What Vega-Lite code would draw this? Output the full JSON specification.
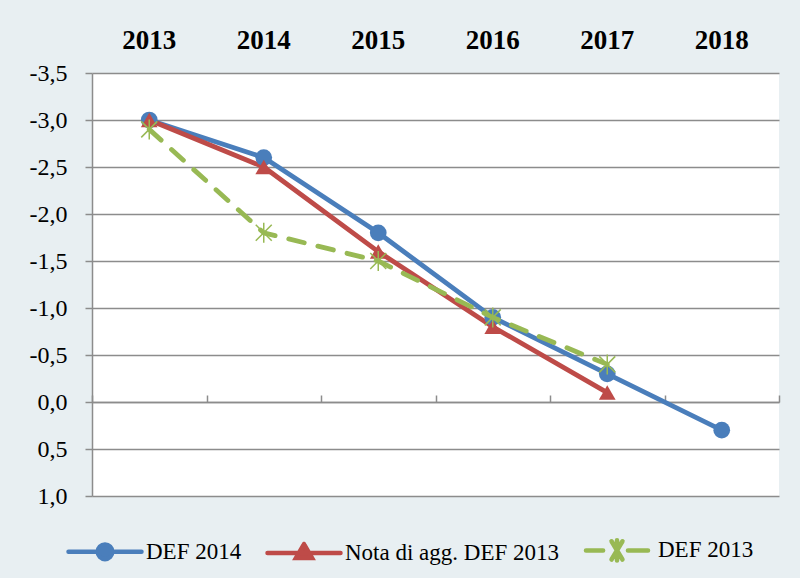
{
  "$schema": "https://vega.github.io/schema/vega-lite/v6.json",
  "width": 687,
  "height": 423,
  "autosize": {"type": "none"},
  "padding": {"left": 92, "top": 73, "right": 21, "bottom": 82},
  "background": "#e8eff2",
  "config": {
    "view": {"fill": "white", "stroke": null},
    "font": "Liberation Serif",
    "axis": {"labelFont": "Liberation Serif"},
    "axisY": {"labelFont": "Liberation Serif", "labelFontSize": 24, "labelColor": "black"}
  },
  "data": {
    "values": [
      {"year": "2013", "value": -3.0, "series": "DEF 2014"},
      {"year": "2014", "value": -2.6, "series": "DEF 2014"},
      {"year": "2015", "value": -1.8, "series": "DEF 2014"},
      {"year": "2016", "value": -0.9, "series": "DEF 2014"},
      {"year": "2017", "value": -0.3, "series": "DEF 2014"},
      {"year": "2018", "value": 0.3, "series": "DEF 2014"},
      {"year": "2013", "value": -3.0, "series": "Nota di agg. DEF 2013"},
      {"year": "2014", "value": -2.5, "series": "Nota di agg. DEF 2013"},
      {"year": "2015", "value": -1.6, "series": "Nota di agg. DEF 2013"},
      {"year": "2016", "value": -0.8, "series": "Nota di agg. DEF 2013"},
      {"year": "2017", "value": -0.1, "series": "Nota di agg. DEF 2013"},
      {"year": "2013", "value": -2.9, "series": "DEF 2013"},
      {"year": "2014", "value": -1.8, "series": "DEF 2013"},
      {"year": "2015", "value": -1.5, "series": "DEF 2013"},
      {"year": "2016", "value": -0.9, "series": "DEF 2013"},
      {"year": "2017", "value": -0.4, "series": "DEF 2013"}
    ]
  },
  "encoding": {
    "x": {
      "field": "year", "type": "ordinal", "bandPosition": 0.5,
      "scale": {"type": "band", "paddingInner": 0, "paddingOuter": 0, "domain": ["2013", "2014", "2015", "2016", "2017", "2018"]},
      "axis": null
    },
    "y": {
      "field": "value", "type": "quantitative",
      "scale": {"domain": [-3.5, 1.0], "reverse": true, "nice": false, "zero": false},
      "axis": {
        "values": [-3.5, -3.0, -2.5, -2.0, -1.5, -1.0, -0.5, 0.0, 0.5, 1.0],
        "labelExpr": "replace(replace(format(datum.value, '.1f'), '.', ','), '\u2212', '-')",
        "labelFont": "Liberation Serif", "labelFontSize": 24, "labelColor": "black", "labelPadding": 18,
        "tickSize": 7, "tickColor": "#8c8c8c", "tickWidth": 1.5,
        "domainColor": "#8c8c8c", "domainWidth": 1.5,
        "grid": true, "gridColor": "#8c8c8c", "gridWidth": 1.5,
        "title": null
      }
    },
    "color": {
      "field": "series", "type": "nominal",
      "scale": {"domain": ["DEF 2014", "Nota di agg. DEF 2013", "DEF 2013"], "range": ["#4a7ebb", "#be4b48", "#98b954"]},
      "legend": {
        "orient": "none", "legendX": -26, "legendY": 438, "direction": "horizontal", "title": null,
        "symbolSize": 5329, "symbolStrokeWidth": 4.5, "symbolOpacity": 1,
        "labelFont": "Liberation Serif", "labelFontSize": 23, "labelColor": "black",
        "labelOffset": 2, "columnPadding": 16, "labelLimit": 400, "padding": 0,
        "encode": {
          "symbols": {
            "update": {
              "shape": {"signal": "datum.value === 'DEF 2014' ? 'M-1,0L1,0M0.2,0A0.2,0.2,0,1,1,-0.2,0A0.2,0.2,0,1,1,0.2,0Z' : datum.value === 'DEF 2013' ? 'M-0.85,0L-0.38,0M0.3,0L0.85,0M-0.15,-0.25L0.15,0.25M-0.15,0.25L0.15,-0.25M0,-0.28L0,0.28' : 'M-1,0L1,0M0,-0.24L0.22,0.14L-0.22,0.14Z'"},
              "fill": {"signal": "datum.value === 'DEF 2014' ? '#4a7ebb' : datum.value === 'DEF 2013' ? 'transparent' : '#be4b48'"},
              "stroke": {"signal": "datum.value === 'DEF 2014' ? '#4a7ebb' : datum.value === 'DEF 2013' ? '#98b954' : '#be4b48'"},
              "strokeDash": {"value": [200, 0]},
              "strokeWidth": {"value": 4.5},
              "strokeCap": {"value": "round"},
              "opacity": {"value": 1}
            }
          }
        }
      }
    }
  },
  "layer": [
    {
      "transform": [{"filter": "datum.series !== 'DEF 2013'"}],
      "mark": {"type": "line", "strokeWidth": 4.8, "strokeCap": "round", "strokeJoin": "round"},
      "encoding": {
        "x": {
          "field": "year", "type": "ordinal", "bandPosition": 0.5,
          "axis": {
            "orient": "top", "labelFont": "Liberation Serif", "labelFontWeight": "bold", "labelFontSize": 27,
            "labelColor": "black", "ticks": false, "domain": false, "grid": false, "labelPadding": 19,
            "labelAngle": 0, "title": null
          }
        }
      }
    },
    {
      "transform": [{"filter": "datum.series !== 'DEF 2013'"}],
      "mark": {"type": "point", "filled": true, "opacity": 1, "size": 280},
      "encoding": {
        "shape": {
          "field": "series", "type": "nominal",
          "scale": {"domain": ["DEF 2014", "Nota di agg. DEF 2013"], "range": ["circle", "triangle-up"]},
          "legend": null
        }
      }
    },
    {
      "transform": [{"filter": "datum.series === 'DEF 2013'"}],
      "mark": {"type": "line", "strokeWidth": 4.8, "strokeCap": "round", "strokeJoin": "round", "strokeDash": [16, 14]}
    },
    {
      "transform": [{"filter": "datum.series === 'DEF 2013'"}],
      "mark": {"type": "point", "filled": false, "opacity": 1, "size": 400, "strokeWidth": 1.5,
        "shape": "M-0.8,-0.8L0.8,0.8M-0.8,0.8L0.8,-0.8M0,-1L0,1"}
    },
    {
      "mark": {"type": "point", "opacity": 0},
      "encoding": {
        "x": {
          "field": "year", "type": "ordinal", "bandPosition": 0.5,
          "axis": {
            "orient": "bottom", "offset": -94, "labels": false, "ticks": true, "tickBand": "extent",
            "tickSize": -7, "tickColor": "#8c8c8c", "tickWidth": 1.5,
            "domain": true, "domainColor": "#8c8c8c", "domainWidth": 1.5, "grid": false, "title": null
          }
        }
      }
    }
  ],
  "resolve": {"axis": {"x": "independent"}}
}
